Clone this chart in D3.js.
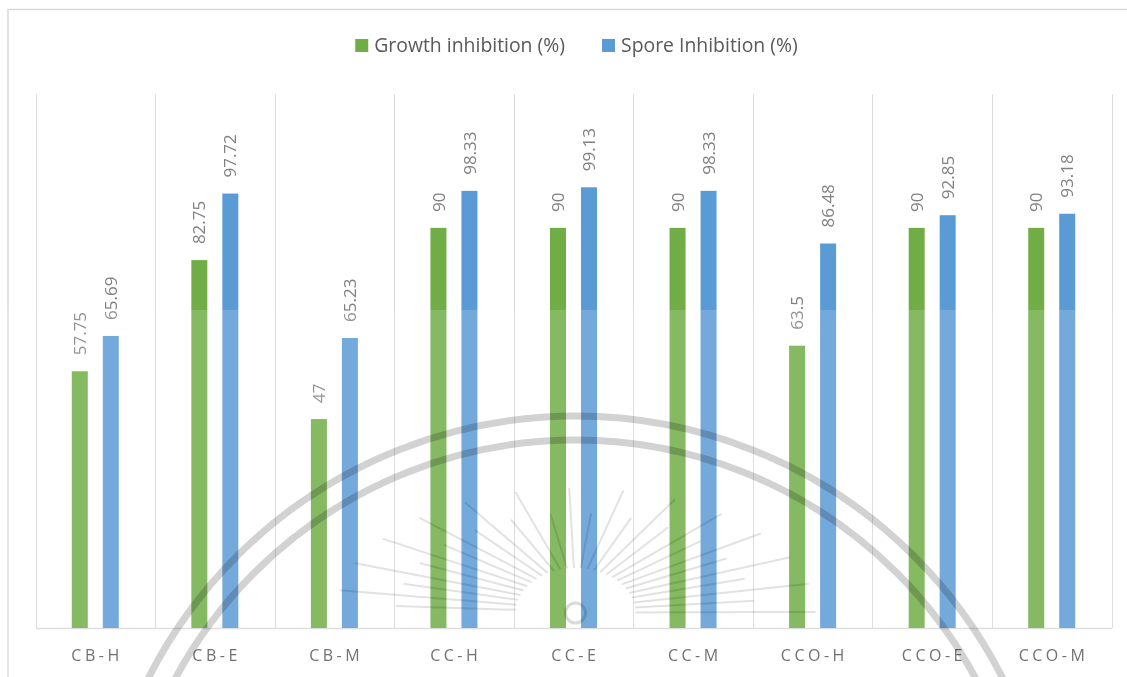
<!DOCTYPE html>
<html>
<head>
<meta charset="utf-8">
<script src="https://cdn.jsdelivr.net/npm/d3@7/dist/d3.min.js"></script>
<style>
  html, body { margin: 0; padding: 0; background: #fff; }
  svg { display: block; font-family: "Open Sans", "Noto Sans", sans-serif; }
</style>
</head>
<body>
<svg id="chart" width="1127" height="677"></svg>
<script>
// Extract codes and their inhibition results (%)
const categories = ["CB-H", "CB-E", "CB-M", "CC-H", "CC-E", "CC-M", "CCO-H", "CCO-E", "CCO-M"];
const growthInhibition = [57.75, 82.75, 47, 90, 90, 90, 63.5, 90, 90];
const sporeInhibition = [65.69, 97.72, 65.23, 98.33, 99.13, 98.33, 86.48, 92.85, 93.18];
const seriesNames = ["Growth inhibition (%)", "Spore Inhibition (%)"];
const seriesColors = ["#70AD47", "#5B9BD5"];
const yMax = 120;

const rows = categories.map((c, i) => ({
  cat: c,
  values: [
    { key: seriesNames[0], value: growthInhibition[i] },
    { key: seriesNames[1], value: sporeInhibition[i] }
  ]
}));

const svg = d3.select("#chart");
const W = 1127, H = 677;
const plot = { left: 35.5, right: 1111.5, top: 94.5, bottom: 628 };

// chart area frame
svg.append("rect")
  .attr("x", 8).attr("y", 9.5)
  .attr("width", W + 20).attr("height", H + 20)
  .attr("fill", "#fff").attr("stroke", "#d9d9d9").attr("stroke-width", 1.5);

const x0 = d3.scaleBand().domain(categories).range([plot.left, plot.right]).padding(0);
const bw = x0.bandwidth();
const x1 = d3.scaleBand().domain(seriesNames)
  .range([bw / 2 - 23.5, bw / 2 + 23.5]).paddingInner(0.484).paddingOuter(0);
const y = d3.scaleLinear().domain([0, yMax]).range([plot.bottom, plot.top]);
const color = d3.scaleOrdinal().domain(seriesNames).range(seriesColors);

// vertical category separators
const sepX = categories.map(c => x0(c)).concat([plot.right]);
svg.append("g").selectAll("line").data(sepX).join("line")
  .attr("x1", d => Math.round(d) + 0.5).attr("x2", d => Math.round(d) + 0.5)
  .attr("y1", plot.top).attr("y2", plot.bottom)
  .attr("stroke", "#d9d9d9").attr("stroke-width", 1);

// category axis
const xAxis = svg.append("g")
  .attr("transform", `translate(0,${plot.bottom})`)
  .call(d3.axisBottom(x0).tickSize(0).tickPadding(0));
xAxis.select(".domain").attr("stroke", "#d9d9d9").attr("stroke-width", 1.5);
xAxis.selectAll(".tick text")
  .attr("y", 33).attr("dy", 0).attr("dx", 1.75)
  .attr("font-family", "'Open Sans', sans-serif")
  .attr("font-size", 16).attr("letter-spacing", 3.5)
  .attr("fill", "#595959");

// bars
const groups = svg.append("g").selectAll("g").data(rows).join("g")
  .attr("transform", d => `translate(${x0(d.cat)},0)`);

groups.selectAll("rect").data(d => d.values).join("rect")
  .attr("x", d => x1(d.key))
  .attr("width", x1.bandwidth())
  .attr("y", d => y(d.value))
  .attr("height", d => y(0) - y(d.value))
  .attr("fill", d => color(d.key));

// value labels, rotated above each bar
groups.selectAll("text.val").data(d => d.values).join("text")
  .attr("class", "val")
  .attr("transform", d => `translate(${x1(d.key) + x1.bandwidth() / 2},${y(d.value) - 16}) rotate(-90)`)
  .attr("dy", "0.36em")
  .attr("font-size", 17)
  .attr("fill", "#808080")
  .text(d => d3.format("")(d.value));

// legend
const legend = svg.append("g");
const items = legend.selectAll("g").data(seriesNames).join("g");
items.append("rect").attr("width", 13).attr("height", 13).attr("y", 39)
  .attr("fill", d => color(d));
items.append("text").attr("x", 19).attr("y", 52)
  .attr("font-size", 19.4).attr("fill", "#595959").text(d => d);
let offs = [], acc = 0;
items.each(function () {
  offs.push(acc);
  acc += 19 + d3.select(this).select("text").node().getComputedTextLength() + 37;
});
const legendW = acc - 37;
const legendX = 576.5 - legendW / 2;
items.attr("transform", (d, i) => `translate(${legendX + offs[i]},0)`);

// faint emblem watermark printed over the lower part of the page:
// a translucent white sheet, then grey line work multiplied on top
svg.append("rect").attr("x", 0).attr("y", 310).attr("width", W).attr("height", H - 310)
  .attr("fill", "#fff").attr("fill-opacity", 0.15);

const wm = svg.append("g").style("mix-blend-mode", "multiply");
const cx = 575.5, cy = 895;
[479, 455].forEach(r => {
  wm.append("circle").attr("cx", cx).attr("cy", cy).attr("r", r)
    .attr("fill", "none").attr("stroke", "#d2d2d2").attr("stroke-width", 7);
});
const sx = 575.5, sy = 613;
const rayAngles = d3.range(-176, 0, 6.5);
wm.append("g").selectAll("line").data(rayAngles).join("line")
  .each(function (a, i) {
    const t = a * Math.PI / 180;
    const c = Math.cos(t), s = Math.sin(t);
    const outerA = i % 2 ? 240 : 180, outerB = i % 2 ? 125 : 100;
    d3.select(this)
      .attr("x1", sx + 60 * c).attr("y1", sy + 45 * s)
      .attr("x2", sx + outerA * c).attr("y2", sy + outerB * s);
  })
  .attr("stroke", "#e2e2e2").attr("stroke-width", 2);
wm.append("circle").attr("cx", sx).attr("cy", sy).attr("r", 10)
  .attr("fill", "none").attr("stroke", "#dadada").attr("stroke-width", 3);
</script>
</body>
</html>
